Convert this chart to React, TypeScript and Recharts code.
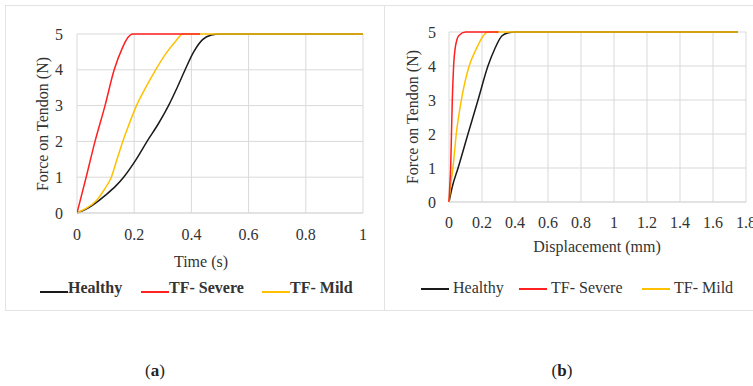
import React from "react";
import { LineChart, Line, XAxis, YAxis, CartesianGrid } from "recharts";

const FONT = '"Liberation Serif", "Times New Roman", serif';

// (a) Force vs time
const timeTicks = [0, 0.2, 0.4, 0.6, 0.8, 1];
const forceTicks = [0, 1, 2, 3, 4, 5];
const timeHealthy = [
  { x: 0, y: 0 }, { x: 0.03, y: 0.1 }, { x: 0.06, y: 0.25 }, { x: 0.1, y: 0.5 },
  { x: 0.135, y: 0.75 }, { x: 0.163, y: 1 }, { x: 0.207, y: 1.5 }, { x: 0.245, y: 2 },
  { x: 0.285, y: 2.5 }, { x: 0.32, y: 3 }, { x: 0.35, y: 3.5 }, { x: 0.378, y: 4 },
  { x: 0.408, y: 4.5 }, { x: 0.44, y: 4.85 }, { x: 0.47, y: 4.97 }, { x: 0.5, y: 5 },
  { x: 1, y: 5 },
];
const timeSevere = [
  { x: 0, y: 0 }, { x: 0.032, y: 1 }, { x: 0.063, y: 2 }, { x: 0.098, y: 3 },
  { x: 0.13, y: 4 }, { x: 0.158, y: 4.6 }, { x: 0.178, y: 4.9 }, { x: 0.195, y: 5 },
  { x: 0.43, y: 5 },
];
const timeMild = [
  { x: 0, y: 0 }, { x: 0.03, y: 0.12 }, { x: 0.068, y: 0.35 }, { x: 0.095, y: 0.65 },
  { x: 0.12, y: 1 }, { x: 0.14, y: 1.5 }, { x: 0.16, y: 2 }, { x: 0.183, y: 2.5 },
  { x: 0.208, y: 3 }, { x: 0.24, y: 3.5 }, { x: 0.275, y: 4 }, { x: 0.315, y: 4.5 },
  { x: 0.345, y: 4.8 }, { x: 0.37, y: 5 }, { x: 1, y: 5 },
];

// (b) Force vs displacement
const dispTicks = [0, 0.2, 0.4, 0.6, 0.8, 1, 1.2, 1.4, 1.6, 1.8];
const dispHealthy = [
  { x: 0, y: 0 }, { x: 0.02, y: 0.45 }, { x: 0.055, y: 1 }, { x: 0.115, y: 2 },
  { x: 0.176, y: 3 }, { x: 0.236, y: 4 }, { x: 0.277, y: 4.5 }, { x: 0.32, y: 4.88 },
  { x: 0.36, y: 4.98 }, { x: 0.4, y: 5 }, { x: 1.75, y: 5 },
];
const dispSevere = [
  { x: 0, y: 0 }, { x: 0.005, y: 0.5 }, { x: 0.01, y: 1 }, { x: 0.015, y: 2 },
  { x: 0.02, y: 3 }, { x: 0.028, y: 4 }, { x: 0.04, y: 4.6 }, { x: 0.06, y: 4.9 },
  { x: 0.1, y: 5 }, { x: 0.3, y: 5 },
];
const dispMild = [
  { x: 0, y: 0 }, { x: 0.01, y: 0.5 }, { x: 0.024, y: 1 }, { x: 0.044, y: 2 },
  { x: 0.075, y: 3 }, { x: 0.122, y: 4 }, { x: 0.165, y: 4.5 }, { x: 0.196, y: 4.8 },
  { x: 0.235, y: 5 }, { x: 1.75, y: 5 },
];

const seriesNames = ["Healthy", "TF- Severe", "TF- Mild"];
const seriesColors = ["#1a1a1a", "#ff2020", "#ffc000"];

const tickStyle = { fontFamily: FONT, fontSize: 16, fill: "#333" };

const abs = (l: number, t: number, extra: React.CSSProperties = {}): React.CSSProperties => ({
  position: "absolute",
  left: l,
  top: t,
  fontFamily: FONT,
  color: "#333",
  whiteSpace: "nowrap",
  ...extra,
});

function LegendRow({ left, top, items, bold }: { left: number[]; top: number; items: { name: string; color: string }[]; bold: boolean }) {
  return (
    <>
      {items.map((it, i) => (
        <div key={it.name} style={abs(left[i], top - 10, { display: "flex", alignItems: "center", fontSize: 16, fontWeight: bold ? 700 : 400, height: 20 })}>
          <div style={{ width: 28, height: 1.5, background: it.color, marginTop: bold ? 8 : 2, marginRight: bold ? 0 : 4 }} />
          <span>{it.name}</span>
        </div>
      ))}
    </>
  );
}

export default function App() {
  const items = seriesNames.map((n, i) => ({ name: n, color: seriesColors[i] }));
  return (
    <div style={{ position: "absolute", left: 0, top: 0, width: 753, height: 386, background: "#fff", overflow: "hidden" }}>
      {/* panel borders */}
      <div style={{ position: "absolute", left: 5, top: 5, width: 380, height: 306, border: "1px solid #e3e3e3", boxSizing: "border-box" }} />
      <div style={{ position: "absolute", left: 384, top: 5, width: 380, height: 306, border: "1px solid #e3e3e3", boxSizing: "border-box" }} />

      {/* chart (a) */}
      <div style={{ position: "absolute", left: 0, top: 0 }}>
        <LineChart width={380} height={260} margin={{ top: 34, right: 17, bottom: 17, left: 37 }}>
          <CartesianGrid stroke="#d9d9d9" />
          <XAxis type="number" dataKey="x" domain={[0, 1]} ticks={timeTicks} tick={tickStyle} tickLine={false} axisLine={{ stroke: "#d9d9d9" }} tickSize={0} tickMargin={16} height={30} allowDataOverflow />
          <YAxis type="number" dataKey="y" domain={[0, 5]} ticks={forceTicks} tick={tickStyle} tickLine={false} axisLine={false} tickSize={0} tickMargin={14} width={40} />
          <Line data={timeHealthy} dataKey="y" type="monotone" stroke={seriesColors[0]} strokeWidth={1.5} dot={false} isAnimationActive={false} />
          <Line data={timeMild} dataKey="y" type="monotone" stroke={seriesColors[2]} strokeWidth={1.5} dot={false} isAnimationActive={false} />
          <Line data={timeSevere} dataKey="y" type="monotone" stroke={seriesColors[1]} strokeWidth={1.5} dot={false} isAnimationActive={false} />
        </LineChart>
      </div>
      <div style={abs(43, 124, { fontSize: 16, transform: "translate(-50%, -50%) rotate(-90deg)" })}>Force on Tendon (N)</div>
      <div style={abs(201, 262, { fontSize: 16, transform: "translate(-50%, -50%)" })}>Time (s)</div>
      <LegendRow left={[40, 141, 262]} top={288} items={items} bold={true} />

      {/* chart (b) */}
      <div style={{ position: "absolute", left: 385, top: 0 }}>
        <LineChart width={368} height={260} margin={{ top: 32, right: 7, bottom: 28, left: 24 }}>
          <CartesianGrid stroke="#d9d9d9" />
          <XAxis type="number" dataKey="x" domain={[0, 1.8]} ticks={dispTicks} tick={tickStyle} tickLine={false} axisLine={{ stroke: "#d9d9d9" }} tickSize={0} tickMargin={15} height={30} interval={0} />
          <YAxis type="number" dataKey="y" domain={[0, 5]} ticks={forceTicks} tick={tickStyle} tickLine={false} axisLine={false} tickSize={0} tickMargin={13} width={40} />
          <Line data={dispHealthy} dataKey="y" type="monotone" stroke={seriesColors[0]} strokeWidth={1.5} dot={false} isAnimationActive={false} />
          <Line data={dispMild} dataKey="y" type="monotone" stroke={seriesColors[2]} strokeWidth={1.5} dot={false} isAnimationActive={false} />
          <Line data={dispSevere} dataKey="y" type="monotone" stroke={seriesColors[1]} strokeWidth={1.5} dot={false} isAnimationActive={false} />
        </LineChart>
      </div>
      <div style={abs(413, 117, { fontSize: 16, transform: "translate(-50%, -50%) rotate(-90deg)" })}>Force on Tendon (N)</div>
      <div style={abs(597, 247, { fontSize: 16, transform: "translate(-50%, -50%)" })}>Displacement (mm)</div>
      <LegendRow left={[421, 519, 642]} top={288} items={items} bold={false} />

      {/* captions */}
      <div style={abs(155, 371, { fontSize: 17, color: "#222", transform: "translate(-50%, -50%)" })}>(<b>a</b>)</div>
      <div style={abs(562, 371, { fontSize: 17, color: "#222", transform: "translate(-50%, -50%)" })}>(<b>b</b>)</div>
    </div>
  );
}
